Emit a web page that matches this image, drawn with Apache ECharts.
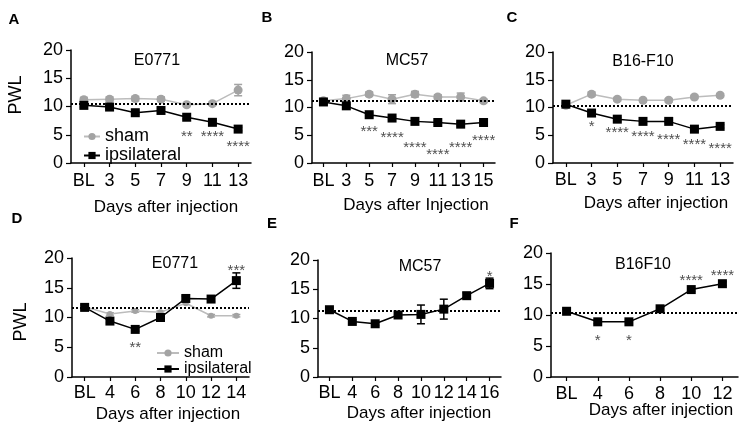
<!DOCTYPE html>
<html>
<head>
<meta charset="utf-8">
<script src="https://cdn.jsdelivr.net/npm/echarts@6/dist/echarts.min.js"></script>
<style>html,body{margin:0;padding:0;background:#fff}#c{width:750px;height:431px}</style>
</head>
<body>
<div id="c"></div>
<script>
// ---------- data ----------
const yTicks = [0, 5, 10, 15, 20];

const A_cats = ['BL', '3', '5', '7', '9', '11', '13'];
const A_sham = [11.2, 11.3, 11.4, 11.3, 10.3, 10.5, 12.9];
const A_shamErr = [0.4, 0.4, 0.4, 0.4, 0.3, 0.3, 1.0];
const A_ipsi = [10.2, 9.9, 8.9, 9.3, 8.1, 7.2, 6.0];
const A_ipsiErr = [0.3, 0.3, 0.3, 0.3, 0.3, 0.3, 0.3];
const A_base = 10.4;
const A_stars = [[4, 5.3, '**'], [5, 5.3, '****'], [6, 3.5, '****']];

const B_cats = ['BL', '3', '5', '7', '9', '11', '13', '15'];
const B_sham = [11.2, 11.6, 12.4, 11.5, 12.4, 11.9, 11.9, 11.2];
const B_shamErr = [0.3, 0.6, 0.4, 0.8, 0.5, 0.4, 0.7, 0.3];
const B_ipsi = [11.0, 10.3, 8.7, 8.1, 7.5, 7.3, 7.0, 7.3];
const B_ipsiErr = [0.3, 0.3, 0.3, 0.3, 0.3, 0.3, 0.3, 0.3];
const B_base = 11.2;
const B_stars = [[2, 6.4, '***'], [3, 5.2, '****'], [4, 3.4, '****'], [5, 2.1, '****'], [6, 3.5, '****'], [7, 4.8, '****']];

const C_cats = ['BL', '3', '5', '7', '9', '11', '13'];
const C_sham = [10.4, 12.4, 11.5, 11.3, 11.3, 11.9, 12.2];
const C_shamErr = [0.3, 0.4, 0.3, 0.3, 0.3, 0.3, 0.3];
const C_ipsi = [10.6, 9.0, 7.9, 7.5, 7.5, 6.1, 6.6];
const C_ipsiErr = [0.3, 0.3, 0.3, 0.3, 0.3, 0.3, 0.3];
const C_base = 10.4;
const C_stars = [[1, 7.2, '*'], [2, 6.1, '****'], [3, 5.4, '****'], [4, 4.9, '****'], [5, 3.9, '****'], [6, 3.3, '****']];

const D_cats = ['BL', '4', '6', '8', '10', '12', '14'];
const D_sham = [11.8, 10.6, 11.1, 10.9, 12.4, 10.3, 10.3];
const D_shamErr = [0.2, 0.2, 0.2, 0.2, 0.2, 0.2, 0.2];
const D_ipsi = [11.7, 9.4, 8.0, 10.0, 13.2, 13.1, 16.2];
const D_ipsiErr = [0.4, 0.3, 0.3, 0.3, 0.4, 0.4, 1.3];
const D_base = 11.6;
const D_stars = [[2, 5.5, '**'], [6, 18.5, '***']];

const E_cats = ['BL', '4', '6', '8', '10', '12', '14', '16'];
const E_ipsi = [11.5, 9.5, 9.1, 10.6, 10.7, 11.6, 13.9, 16.0];
const E_ipsiErr = [0.3, 0.3, 0.3, 0.3, 1.6, 1.7, 0.5, 0.9];
const E_base = 11.4;
const E_stars = [[7, 17.8, '*']];

const F_cats = ['BL', '4', '6', '8', '10', '12'];
const F_ipsi = [10.6, 8.9, 8.9, 11.0, 14.1, 15.05];
const F_ipsiErr = [0.3, 0.3, 0.3, 0.3, 0.3, 0.3];
const F_base = 10.4;
const F_stars = [[1, 6.4, '*'], [2, 6.4, '*'], [4, 16.1, '****'], [5, 17.0, '****']];

const seriesNames = ['sham', 'ipsilateral'];
const panelLetters = ['A', 'B', 'C', 'D', 'E', 'F'];
const panelTitles = ['E0771', 'MC57', 'B16-F10', 'E0771', 'MC57', 'B16F10'];
const xNames = ['Days after injection', 'Days after Injection', 'Days after injection',
                'Days after injection', 'Days after injection', 'Days after injection'];
const yName = 'PWL';

// ---------- layout ----------
const FONT = '"Liberation Sans", Arial, sans-serif';
const panels = [
  {cats: A_cats, sham: A_sham, shamErr: A_shamErr, ipsi: A_ipsi, ipsiErr: A_ipsiErr, base: A_base, stars: A_stars,
   grid: {left: 71, top: 50, width: 180, height: 113}, lm: 9, shamSize: 9, letter: [14, 20], title: [157, 61], xname: [166, 207], ylab: [16, 95]},
  {cats: B_cats, sham: B_sham, shamErr: B_shamErr, ipsi: B_ipsi, ipsiErr: B_ipsiErr, base: B_base, stars: B_stars,
   grid: {left: 312, top: 52, width: 183, height: 111}, lm: 9, shamSize: 9, letter: [267, 18], title: [407, 61], xname: [416, 205]},
  {cats: C_cats, sham: C_sham, shamErr: C_shamErr, ipsi: C_ipsi, ipsiErr: C_ipsiErr, base: C_base, stars: C_stars,
   grid: {left: 553, top: 52, width: 180, height: 111}, lm: 8, shamSize: 9, letter: [512, 18], title: [643, 62], xname: [656, 203]},
  {cats: D_cats, sham: D_sham, shamErr: D_shamErr, ipsi: D_ipsi, ipsiErr: D_ipsiErr, base: D_base, stars: D_stars,
   grid: {left: 72, top: 258, width: 177, height: 119}, lm: 7, shamSize: 6, letter: [17, 219], title: [175, 264], xname: [168, 414], ylab: [21, 322]},
  {cats: E_cats, ipsi: E_ipsi, ipsiErr: E_ipsiErr, base: E_base, stars: E_stars,
   grid: {left: 318, top: 260, width: 183, height: 117}, lm: 7, letter: [272, 224], title: [420, 267], xname: [419, 413]},
  {cats: F_cats, ipsi: F_ipsi, ipsiErr: F_ipsiErr, base: F_base, stars: F_stars,
   grid: {left: 551, top: 253, width: 187, height: 124}, lm: 8, letter: [514, 224], title: [643, 265], xname: [661, 410]}
];

const SHAM_C = '#a3a3a3', SHAM_L = '#bcbcbc', IPSI_C = '#000000';

function errRender(color) {
  return function (params, api) {
    const x = api.value(0), v = api.value(1), e = api.value(2);
    const hi = api.coord([x, v + e]), lo = api.coord([x, v - e]);
    const w = 4;
    const st = {stroke: color, lineWidth: 1.5};
    return {type: 'group', children: [
      {type: 'line', shape: {x1: hi[0], y1: hi[1], x2: lo[0], y2: lo[1]}, style: st},
      {type: 'line', shape: {x1: hi[0] - w, y1: hi[1], x2: hi[0] + w, y2: hi[1]}, style: st},
      {type: 'line', shape: {x1: lo[0] - w, y1: lo[1], x2: lo[0] + w, y2: lo[1]}, style: st}
    ]};
  };
}

const grids = [], xAxes = [], yAxes = [], series = [], graphics = [];
panels.forEach((p, i) => {
  grids.push(Object.assign({containLabel: false}, p.grid));
  xAxes.push({
    type: 'category', gridIndex: i, data: p.cats, boundaryGap: true,
    axisLine: {lineStyle: {color: '#000', width: 1.5}},
    axisTick: {show: true, alignWithLabel: true, length: 4, lineStyle: {color: '#000', width: 1.2}},
    axisLabel: {interval: 0, fontSize: 18, fontFamily: FONT, color: '#000', margin: p.lm},
    splitLine: {show: false}
  });
  yAxes.push({
    type: 'value', gridIndex: i, min: yTicks[0], max: yTicks[yTicks.length - 1], interval: 5,
    axisLine: {show: true, lineStyle: {color: '#000', width: 1.5}},
    axisTick: {show: true, length: 5, lineStyle: {color: '#000', width: 1.2}},
    axisLabel: {fontSize: 18, fontFamily: FONT, color: '#000', margin: 8},
    splitLine: {show: false}
  });
  if (p.sham) {
    series.push({
      type: 'custom', xAxisIndex: i, yAxisIndex: i, renderItem: errRender(SHAM_C), z: 1, silent: true,
      encode: {x: 0, y: 1}, data: p.cats.map((c, j) => [j, p.sham[j], p.shamErr[j]])
    });
    series.push({
      name: seriesNames[0], type: 'line', xAxisIndex: i, yAxisIndex: i, data: p.sham,
      symbol: 'circle', symbolSize: p.shamSize, showAllSymbol: true, z: 2,
      itemStyle: {color: SHAM_C, borderWidth: 0},
      lineStyle: {color: SHAM_L, width: 1.5}
    });
  }
  series.push({
    type: 'custom', xAxisIndex: i, yAxisIndex: i, renderItem: errRender(IPSI_C), z: 3, silent: true,
    encode: {x: 0, y: 1}, data: p.cats.map((c, j) => [j, p.ipsi[j], p.ipsiErr[j]])
  });
  series.push({
    name: seriesNames[1], type: 'line', xAxisIndex: i, yAxisIndex: i, data: p.ipsi,
    symbol: 'rect', symbolSize: 9, showAllSymbol: true, z: 4,
    itemStyle: {color: IPSI_C, borderWidth: 0},
    lineStyle: {color: IPSI_C, width: 1.5},
    markLine: {
      silent: true, symbol: 'none', label: {show: false},
      lineStyle: {type: [2, 2], color: '#000', width: 2},
      data: [{yAxis: p.base}]
    }
  });
  series.push({
    type: 'scatter', xAxisIndex: i, yAxisIndex: i, symbolSize: 0, z: 5, silent: true,
    data: p.stars,
    label: {show: true, position: 'inside', formatter: q => q.data[2], fontSize: 15,
            fontFamily: FONT, color: '#222', offset: [0, 4]}
  });

  graphics.push({type: 'text', x: p.letter[0], y: p.letter[1],
    style: {text: panelLetters[i], font: 'bold 15px ' + FONT, fill: '#000', align: 'center', verticalAlign: 'middle'}});
  graphics.push({type: 'text', x: p.title[0], y: p.title[1],
    style: {text: panelTitles[i], font: '16px ' + FONT, fill: '#000', align: 'center', verticalAlign: 'middle'}});
  graphics.push({type: 'text', x: p.xname[0], y: p.xname[1],
    style: {text: xNames[i], font: '17px ' + FONT, fill: '#000', align: 'center', verticalAlign: 'middle'}});
  if (p.ylab) {
    graphics.push({type: 'text', x: p.ylab[0], y: p.ylab[1], rotation: Math.PI / 2,
      style: {text: yName, font: '18px ' + FONT, fill: '#000', align: 'center', verticalAlign: 'middle'}});
  }
});

const chart = echarts.init(document.getElementById('c'), null, {renderer: 'canvas'});
chart.setOption({
  backgroundColor: '#fff',
  animation: false,
  grid: grids, xAxis: xAxes, yAxis: yAxes, series: series,
  legend: [
    {data: seriesNames, orient: 'vertical', left: 78, top: 122, itemWidth: 16, itemHeight: 9, itemGap: 0,
     textStyle: {fontSize: 18, fontFamily: FONT, color: '#000', lineHeight: 19}, selectedMode: false},
    {data: seriesNames, orient: 'vertical', left: 151, top: 340, itemWidth: 22, itemHeight: 9, itemGap: 0,
     textStyle: {fontSize: 16, fontFamily: FONT, color: '#000', lineHeight: 15}, selectedMode: false}
  ],
  graphic: graphics
});
</script>
</body>
</html>
